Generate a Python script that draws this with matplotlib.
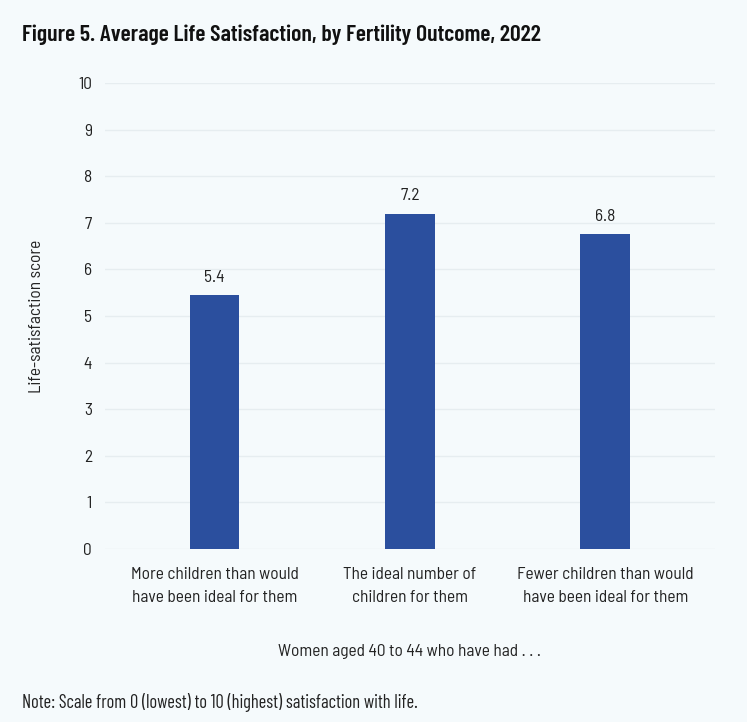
from matplotlib import pyplot as plt
import numpy as np

categories = ['More children than would\nhave been ideal for them',
              'The ideal number of\nchildren for them',
              'Fewer children than would\nhave been ideal for them']
scores = [5.45, 7.2, 6.76]
score_labels = ['5.4', '7.2', '6.8']
yticks = [0, 1, 2, 3, 4, 5, 6, 7, 8, 9, 10]

plt.rcParams['font.family'] = ['Barlow Semi Condensed', 'DejaVu Sans']

bg = '#f5fafc'
bar_color = '#2b4f9e'
text_color = '#222222'

fig = plt.figure(figsize=(7.47, 7.22), dpi=100, facecolor=bg)
ax = fig.add_axes([0.1406, 0.2396, 0.8164, 0.6454], facecolor=bg)

x = np.arange(len(categories))
bars = ax.bar(x, scores, width=0.255, color=bar_color, zorder=3)

# value labels above bars
for xi, val, lab in zip(x, scores, score_labels):
    ax.text(xi, val + 0.22, lab, ha='center', va='bottom', fontsize=12.5, color=text_color)

ax.set_xlim(-0.56, 2.56)
ax.set_ylim(0, 10)
ax.set_yticks(yticks)
ax.set_yticklabels([str(t) for t in yticks], fontsize=12.5, color=text_color)
ax.set_xticks(x)
ax.set_xticklabels(categories, fontsize=12.5, color=text_color, linespacing=1.68)
ax.tick_params(axis='both', length=0)
ax.tick_params(axis='y', pad=9.5)
ax.tick_params(axis='x', pad=13)
ax.grid(axis='y', color='#e6edf0', linewidth=1, zorder=0)
for s in ax.spines.values():
    s.set_visible(False)

ax.set_ylabel('Life-satisfaction score', fontsize=12.5, color=text_color, labelpad=24.5)
ax.set_xlabel('Women aged 40 to 44 who have had . . .', fontsize=12.5, color=text_color, labelpad=28)

fig.text(22 / 747, 1 - 35 / 722, 'Figure 5. Average Life Satisfaction, by Fertility Outcome, 2022',
         fontsize=17.1, fontweight=600, family='Barlow Condensed', color='#111111',
         va='center', ha='left')
fig.text(22 / 747, 1 - 703 / 722, 'Note: Scale from 0 (lowest) to 10 (highest) satisfaction with life.',
         fontsize=13.3, family='Barlow Condensed', color=text_color, va='center', ha='left')

plt.savefig('out.png', dpi=100, facecolor=bg)
